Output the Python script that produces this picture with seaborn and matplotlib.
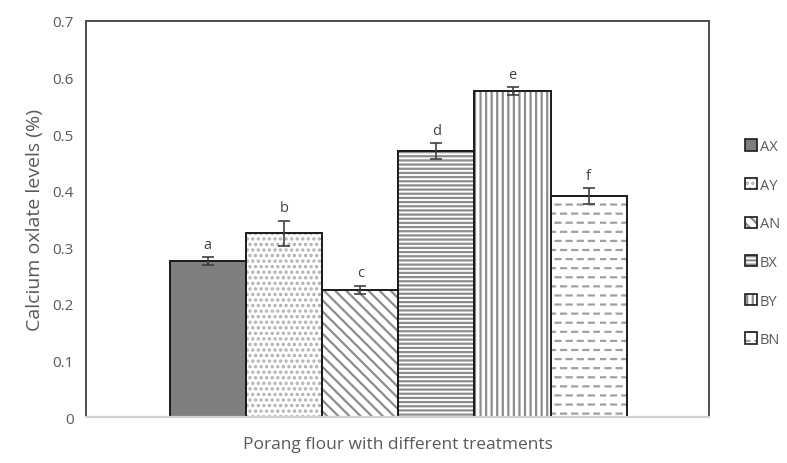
import warnings
warnings.filterwarnings("ignore")
import numpy as np
import matplotlib
matplotlib.use("Agg")
import matplotlib.pyplot as plt
import seaborn as sns
import pandas as pd
from matplotlib.patches import Patch, Rectangle
from matplotlib.legend_handler import HandlerTuple
from matplotlib import hatch as mhatch
from matplotlib.path import Path

treatments = ["AX", "AY", "AN", "BX", "BY", "BN"]
values = [0.275, 0.325, 0.225, 0.470, 0.576, 0.390]
errors = [0.007, 0.022, 0.007, 0.014, 0.007, 0.014]
letters = ["a", "b", "c", "d", "e", "f"]
face_colors = ["#7f7f7f", "white", "white", "white", "white", "white"]
hatch_colors = ["#7f7f7f", "#b0b0b0", "#8c8c8c", "#8c8c8c", "#8c8c8c", "#a0a0a0"]
hatches = ["", "...", "\\\\\\", "----", "|||", "_"]


class DashHatch(mhatch.HatchPatternBase):
    """Staggered rows of short dashes, selected by '_'."""
    def __init__(self, hatch, density):
        n = hatch.count("_")
        self.rows = 11 * n
        self.cols = 9
        self.num_vertices = self.rows * self.cols * 2 if n else 0

    def set_vertices_and_codes(self, vertices, codes):
        dash = 0.45 / self.cols
        k = 0
        for r in range(self.rows):
            y = (r + 0.5) / self.rows
            off = 0.0 if r % 2 == 0 else 0.5 / self.cols
            for c in range(self.cols):
                x0 = (c / self.cols + off) % 1.0
                x1 = min(x0 + dash, 1.0)
                vertices[k] = (x0, y)
                vertices[k + 1] = (x1, y)
                codes[k] = Path.MOVETO
                codes[k + 1] = Path.LINETO
                k += 2


mhatch._hatch_types.append(DashHatch)

sns.set_theme(style="white")
plt.rcParams["font.family"] = ["Open Sans", "DejaVu Sans"]
plt.rcParams["hatch.linewidth"] = 1.6

df = pd.DataFrame({"treatment": treatments, "value": values})

fig = plt.figure(figsize=(7.87, 4.64), dpi=100)
ax = fig.add_axes([0.1093, 0.0991, 0.9009 - 0.1093, 0.9526 - 0.0991])

sns.barplot(data=df, x="treatment", y="value", hue="treatment", order=treatments,
            hue_order=treatments, width=1.0, dodge=False, errorbar=None, legend=False,
            ax=ax, palette=dict(zip(treatments, face_colors)), saturation=1)

bars = [p for p in ax.patches][:len(treatments)]
for bar, fc, hc, h, v, e, lt in zip(bars, face_colors, hatch_colors, hatches, values, errors, letters):
    bar.set_facecolor(fc)
    bar.set_edgecolor(hc)
    bar.set_linewidth(0)
    bar.set_hatch(h)
    outline = Rectangle((bar.get_x(), bar.get_y()), bar.get_width(), bar.get_height(),
                        fill=False, edgecolor="#1a1a1a", linewidth=1.4, zorder=bar.get_zorder() + 0.1)
    ax.add_patch(outline)
    cx = bar.get_x() + bar.get_width() / 2
    ax.errorbar(cx, v, yerr=e, fmt="none", ecolor="#404040", elinewidth=1.2,
                capsize=4, capthick=1.2, zorder=5)
    ax.text(cx, v + e + 0.01, lt, ha="center", va="bottom", fontsize=10.5, color="#404040")

ax.set_xlim(-1.60, 6.58)
ax.set_ylim(0, 0.7)
ax.set_yticks([0, 0.1, 0.2, 0.3, 0.4, 0.5, 0.6, 0.7])
ax.set_yticklabels(["0", "0.1", "0.2", "0.3", "0.4", "0.5", "0.6", "0.7"])
ax.tick_params(axis="y", length=0, labelsize=11, labelcolor="#595959", pad=9)
ax.set_xticks([])
ax.set_xlabel("Porang flour with different treatments", fontsize=12.5, color="#595959", labelpad=14)
ax.set_ylabel("Calcium oxlate levels (%)", fontsize=14, color="#595959", labelpad=6)

for s in ["left", "top", "right"]:
    ax.spines[s].set_color("#4d4d4d")
    ax.spines[s].set_linewidth(1.4)
ax.spines["bottom"].set_color("#d0d0d0")
ax.spines["bottom"].set_linewidth(1.6)

handles = []
for fc, hc, h in zip(face_colors, hatch_colors, hatches):
    fill = Patch(facecolor=fc, edgecolor=hc, hatch=h, linewidth=0)
    edge = Patch(facecolor="none", edgecolor="#1a1a1a", linewidth=1.2)
    handles.append((fill, edge))
fig.legend(handles, treatments, loc="center left", bbox_to_anchor=(0.930, 0.474),
           frameon=False, fontsize=10.5, labelcolor="#595959", handlelength=0.8,
           handleheight=0.8, handletextpad=0.2, labelspacing=1.62,
           handler_map={tuple: HandlerTuple(ndivide=1, pad=0)})

fig.savefig("out.png", dpi=100)
